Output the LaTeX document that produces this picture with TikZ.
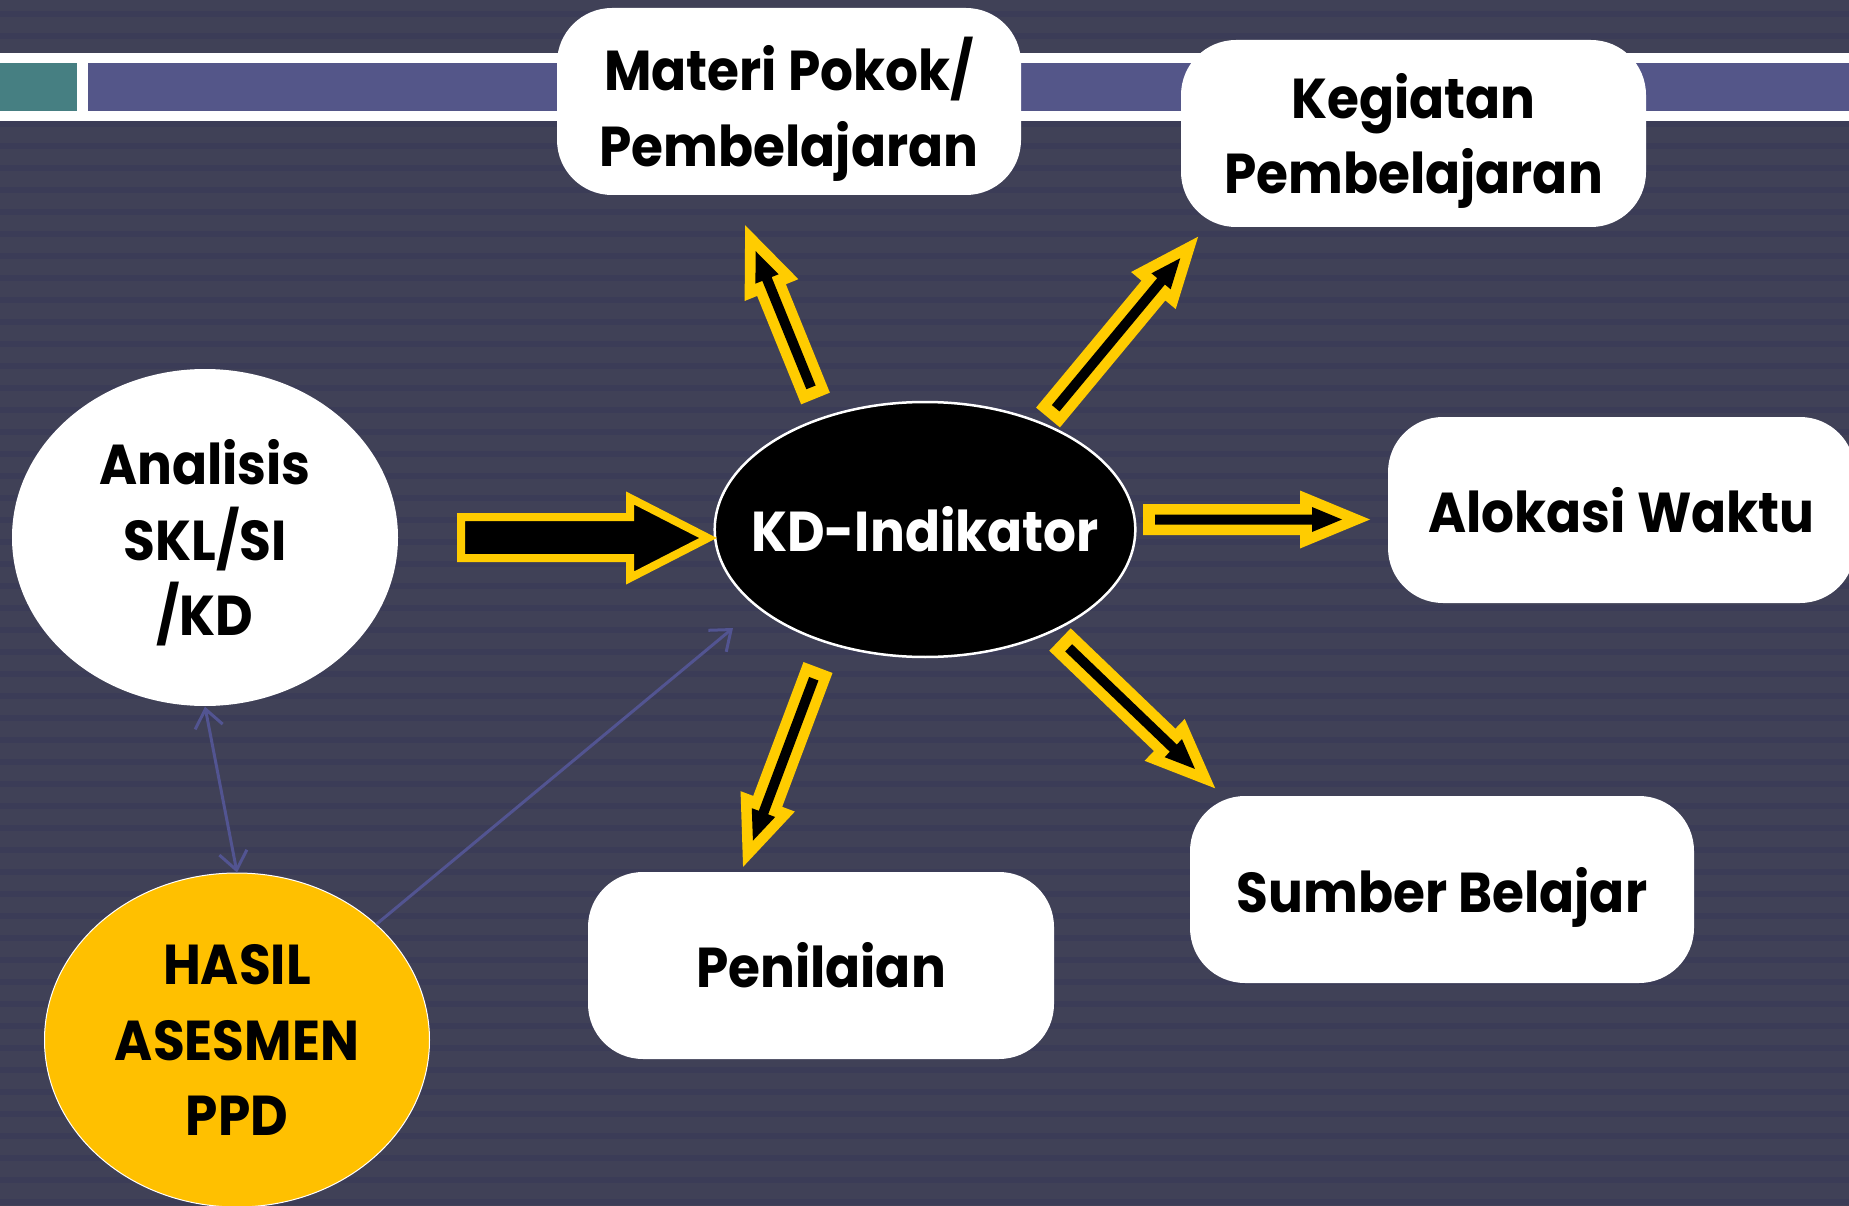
\documentclass[tikz,border=0pt]{standalone}
\usepackage{fontspec}
\setmainfont{Poppins}[FakeStretch=0.92]
\usetikzlibrary{arrows.meta, shapes.geometric, positioning, calc}
\usepackage{xcolor}

\definecolor{slide}{RGB}{64,65,87}
\definecolor{slidestripe}{RGB}{59,60,87}
\definecolor{bandteal}{RGB}{70,127,130}
\definecolor{bandblue}{RGB}{84,86,137}
\definecolor{arrowgold}{RGB}{255,204,0}
\definecolor{hasilgold}{RGB}{255,192,0}
\definecolor{linkblue}{RGB}{82,84,145}

\tikzset{
  box/.style={fill=white, rounded corners=5.5mm, align=center, inner sep=0pt,
    font=\bfseries\fontsize{16}{21.6}\selectfont},
  oval/.style={ellipse, align=center, inner sep=0pt,
    font=\bfseries\fontsize{16}{21.6}\selectfont},
  link/.style={linkblue, line width=0.3mm, >={Straight Barb[length=1.8mm, width=2.8mm]}},
}

\newcommand{\goldarrow}[3]{%
  \begin{scope}[shift={#1}, rotate=#2]
    \fill[arrowgold] (0,-15.5) -- (#3-70,-15.5) -- (#3-70,-29) -- (#3,0) -- (#3-70,29) -- (#3-70,15.5) -- (0,15.5) -- cycle;
    \fill[black] (12,-5) -- (#3-58,-5) -- (#3-58,-12.5) -- (#3-28,0) -- (#3-58,12.5) -- (#3-58,5) -- (12,5) -- cycle;
  \end{scope}}

\begin{document}
\begin{tikzpicture}[x=0.1mm, y=-0.1mm]
      \useasboundingbox (0,0) rectangle (1849,1206);
      \fill[slide] (0,0) rectangle (1849,1206);
      \foreach \y in {11,33,...,1206}
        \fill[slidestripe] (0,\y) rectangle (1849,\y+6);

      \fill[white] (0,53) rectangle (1849,121);
      \fill[bandteal] (0,63) rectangle (77,111);
      \fill[bandblue] (88,63) rectangle (1849,111);

      \node[box, text depth=0pt, minimum width=46.4mm, minimum height=18.7mm] (materi) at (789,101.5) {Materi Pokok/\\Pembelajaran};
      \node[box, text depth=0pt, minimum width=46.5mm, minimum height=18.7mm] (kegiatan) at (1413.5,133.5) {Kegiatan\\Pembelajaran};
      \node[box, minimum width=46.7mm, minimum height=18.6mm] (alokasi) at (1621.5,510) {Alokasi Waktu};
      \node[box, text depth=0pt, minimum width=50.4mm, minimum height=18.7mm] (sumber) at (1442,889.5) {Sumber Belajar};
      \node[box, minimum width=46.6mm, minimum height=18.7mm] (penilaian) at (821,965.5) {Penilaian};

      \node[oval, text depth=0pt, fill=white, minimum width=38.6mm, minimum height=33.7mm] (analisis) at (205,537.5) {Analisis\\SKL/SI\\/KD};
      \node[oval, fill=hasilgold, draw=white, line width=0.1mm, minimum width=38.5mm, minimum height=33.4mm] (hasil) at (237,1040) {HASIL\\ASESMEN\\PPD};
      \node[oval, fill=black, draw=white, line width=0.25mm, text=white, inner xsep=-2.5mm, minimum width=41.6mm, minimum height=25.5mm] (kd) at (925,529.5) {KD-Indikator};

      \filldraw[fill=black, draw=arrowgold, line width=0.8mm] (461,517) -- (630,517) -- (630,498) -- (708,538) -- (630,578) -- (630,558) -- (461,558) -- cycle;

      \goldarrow{(815.5,398.5)}{112.1}{187}
      \goldarrow{(1048,417.5)}{50.3}{235}
      \goldarrow{(1143,519.5)}{0}{227}
      \goldarrow{(1060,639.5)}{-43.8}{215}
      \goldarrow{(818,667.5)}{-110.6}{213}

      \coordinate (kdfoot) at (733,628);
      \draw[link, <->] (analisis.south) -- (hasil.north);
      \draw[link, ->] (hasil) -- (kdfoot);
    \end{tikzpicture}
\end{document}
